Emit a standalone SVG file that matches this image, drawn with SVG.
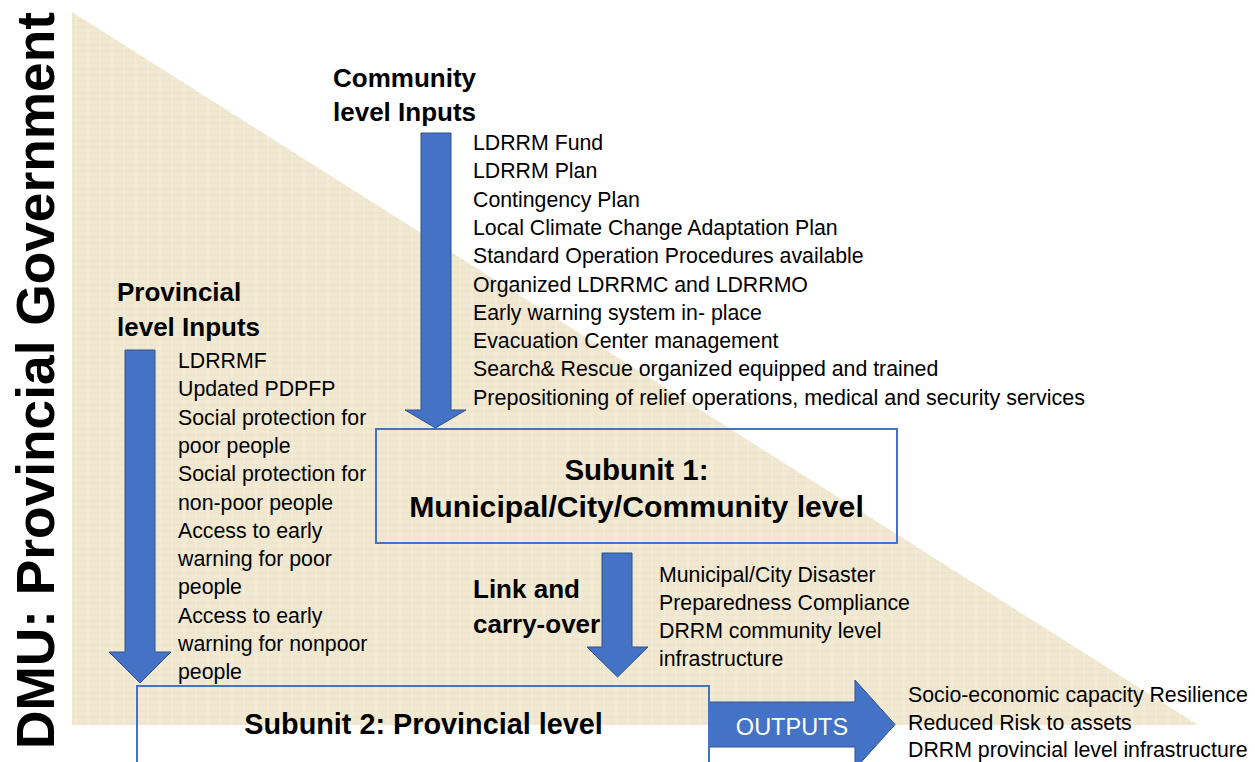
<svg xmlns="http://www.w3.org/2000/svg" width="1255" height="762" viewBox="0 0 1255 762">
<style>
.t{font-family:"Liberation Sans",Arial,sans-serif;font-size:21.3px;fill:#000}
.h{font-family:"Liberation Sans",Arial,sans-serif;font-size:26px;font-weight:bold;fill:#000}
.s{font-family:"Liberation Sans",Arial,sans-serif;font-size:29.5px;font-weight:bold;fill:#000;text-anchor:middle}
.arr{fill:#4472C4;stroke:#2F528F;stroke-width:1}
.box{fill:none;stroke:#4472C4;stroke-width:2}
</style>
<defs>
<pattern id="tex" width="12" height="12" patternUnits="userSpaceOnUse">
<rect width="12" height="12" fill="#F1E8D1"/>
<path d="M0 3H12M0 9H12" stroke="#ECE2C8" stroke-width="1"/>
<path d="M4 0V12" stroke="#F5EEDC" stroke-width="1"/>
</pattern>
</defs>
<rect width="1255" height="762" fill="#fff"/>
<polygon id="background-triangle" points="72,12 72,725 1198,725" fill="url(#tex)"/>
<g id="dmu-title">
<text transform="translate(54,749) rotate(-90)" font-family="Liberation Sans,Arial,sans-serif" font-size="54" font-weight="bold" fill="#000" textLength="737" lengthAdjust="spacingAndGlyphs">DMU: Provincial Government</text>
</g>
<g id="connectors">
<polygon id="arrow-community" class="arr" points="421,133 451,133 451,410 466,410 435.5,428 405,410 421,410"/>
<polygon id="arrow-provincial" class="arr" points="125,350 155,350 155,652 171,652 140,683 109,652 125,652"/>
<polygon id="arrow-link" class="arr" points="602,553 632,553 632,647 648,647 617.5,677 587,647 602,647"/>
<polygon id="arrow-outputs" class="arr" points="709,702 855,702 855,680 895,724.5 855,769 855,747 709,747"/>
</g>
<g id="community-inputs">
<text class="h" x="333" y="87">Community</text>
<text class="h" x="333" y="121">level Inputs</text>
<text class="t" x="473" y="150">LDRRM Fund</text>
<text class="t" x="473" y="178.3">LDRRM Plan</text>
<text class="t" x="473" y="206.6">Contingency Plan</text>
<text class="t" x="473" y="234.9">Local Climate Change Adaptation Plan</text>
<text class="t" x="473" y="263.2">Standard Operation Procedures available</text>
<text class="t" x="473" y="291.5">Organized LDRRMC and LDRRMO</text>
<text class="t" x="473" y="319.8">Early warning system in- place</text>
<text class="t" x="473" y="348.1">Evacuation Center management</text>
<text class="t" x="473" y="376.4">Search&amp; Rescue organized equipped and trained</text>
<text class="t" x="473" y="404.7" textLength="612" lengthAdjust="spacingAndGlyphs">Prepositioning of relief operations, medical and security services</text>
</g>
<g id="provincial-inputs">
<text class="h" x="117" y="301">Provincial</text>
<text class="h" x="117" y="336">level Inputs</text>
<text class="t" x="178" y="368">LDRRMF</text>
<text class="t" x="178" y="396.3">Updated PDPFP</text>
<text class="t" x="178" y="424.6">Social protection for</text>
<text class="t" x="178" y="452.9">poor people</text>
<text class="t" x="178" y="481.2">Social protection for</text>
<text class="t" x="178" y="509.5">non-poor people</text>
<text class="t" x="178" y="537.8">Access to early</text>
<text class="t" x="178" y="566.1">warning for poor</text>
<text class="t" x="178" y="594.4">people</text>
<text class="t" x="178" y="622.7">Access to early</text>
<text class="t" x="178" y="651">warning for nonpoor</text>
<text class="t" x="178" y="679.3">people</text>
</g>
<g id="subunit-1">
<rect class="box" x="376" y="429" width="521" height="114"/>
<text class="s" x="636.5" y="480">Subunit 1:</text>
<text class="s" x="636.5" y="517" style="font-size:30.2px">Municipal/City/Community level</text>
</g>
<g id="link-carry-over">
<text class="h" x="473" y="598">Link and</text>
<text class="h" x="473" y="633">carry-over</text>
<text class="t" x="659" y="582">Municipal/City Disaster</text>
<text class="t" x="659" y="610">Preparedness Compliance</text>
<text class="t" x="659" y="638">DRRM community level</text>
<text class="t" x="659" y="666">infrastructure</text>
</g>
<g id="subunit-2">
<rect class="box" x="137" y="686" width="572" height="120"/>
<text class="s" x="423.5" y="734" style="font-size:28.8px">Subunit 2: Provincial level</text>
</g>
<g id="outputs">
<text x="792" y="735" font-family="Liberation Sans,Arial,sans-serif" font-size="23.5" fill="#fff" text-anchor="middle">OUTPUTS</text>
<text class="t" x="908" y="702">Socio-economic capacity Resilience</text>
<text class="t" x="908" y="729.5">Reduced Risk to assets</text>
<text class="t" x="908" y="757">DRRM provincial level infrastructure</text>
</g>
</svg>
